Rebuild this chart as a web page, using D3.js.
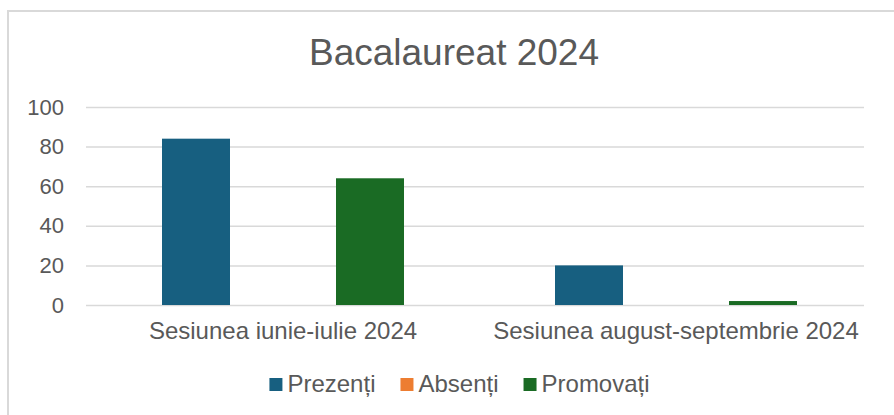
<!DOCTYPE html>
<html><head><meta charset="utf-8">
<script src="https://cdn.jsdelivr.net/npm/d3@7"></script>
<style>body{margin:0;background:#fff;}svg{display:block;font-family:"Liberation Sans",Arial,sans-serif;}</style>
</head><body>
<svg id="c" width="894" height="415"></svg>
<script>
const title = "Bacalaureat 2024";
const categories = ["Sesiunea iunie-iulie 2024", "Sesiunea august-septembrie 2024"];
const seriesNames = ["Prezenți", "Absenți", "Promovați"];
const seriesColors = ["#175f80", "#ed7d31", "#1a6b24"];
const prezenti = [84, 20];
const absenti = [0, 0];
const promovati = [64, 2];
const yTicks = [0, 20, 40, 60, 80, 100];

const seriesValues = [prezenti, absenti, promovati];
const svg = d3.select("#c");
const plotL = 86, plotR = 864, plotT = 107, plotB = 305;

svg.append("rect").attr("x", 8).attr("y", 11).attr("width", 900).attr("height", 420)
  .attr("fill", "#fff").attr("stroke", "#d9d9d9").attr("stroke-width", 2);

svg.append("text").attr("x", 454).attr("y", 65).attr("text-anchor", "middle")
  .attr("font-size", 37).attr("fill", "#595959").text(title);

const y = d3.scaleLinear().domain([0, 100]).range([plotB, plotT]);
const x0 = d3.scaleBand().domain(categories).range([86.5, 872.5]);
const x1 = d3.scaleBand().domain(seriesNames).range([75.5, 75.5 + 242]).paddingInner(19 / 87).paddingOuter(0);

// gridlines + y labels
const yAxis = d3.axisLeft(y).tickValues(yTicks).tickSize(-(plotR - plotL)).tickPadding(22);
const ga = svg.append("g").attr("transform", `translate(${plotL},0)`).call(yAxis);
ga.select(".domain").remove();
ga.selectAll(".tick line").attr("stroke", "#d9d9d9").attr("stroke-width", 1.5);
ga.selectAll(".tick text").attr("fill", "#595959").attr("font-size", 22)
  .attr("font-family", "Liberation Sans, Arial, sans-serif");

// bars
const data = [];
categories.forEach((c, i) => seriesNames.forEach((s, j) => data.push({c, s, j, v: seriesValues[j][i]})));
svg.append("g").selectAll("rect").data(data).join("rect")
  .attr("x", d => x0(d.c) + x1(d.s))
  .attr("width", x1.bandwidth())
  .attr("y", d => y(d.v))
  .attr("height", d => plotB - y(d.v))
  .attr("fill", d => seriesColors[d.j]);

// x axis labels (centered on bar groups)
const xAxis = d3.axisBottom(x0).tickSize(0).tickPadding(17);
const gx = svg.append("g").attr("transform", `translate(0,${plotB})`).call(xAxis);
gx.select(".domain").remove();
gx.selectAll(".tick").attr("transform", d => `translate(${x0(d) + 75.5 + 121},0)`);
gx.selectAll(".tick text").attr("fill", "#595959").attr("font-size", 24)
  .attr("font-family", "Liberation Sans, Arial, sans-serif");

// legend
const lg = svg.append("g");
const items = lg.selectAll("g").data(seriesNames).join("g");
items.append("rect").attr("width", 13).attr("height", 13).attr("y", 378).attr("fill", (d, i) => seriesColors[i]);
items.append("text").attr("x", 18).attr("y", 392).attr("font-size", 24).attr("fill", "#595959").text(d => d);
let widths = [];
items.each(function(){ widths.push(18 + d3.select(this).select("text").node().getComputedTextLength()); });
const gap = 25;
const total = d3.sum(widths) + gap * (widths.length - 1);
let cx = 459.5 - total / 2;
items.attr("transform", (d, i) => { const t = `translate(${cx},0)`; cx += widths[i] + gap; return t; });
</script>
</body></html>
